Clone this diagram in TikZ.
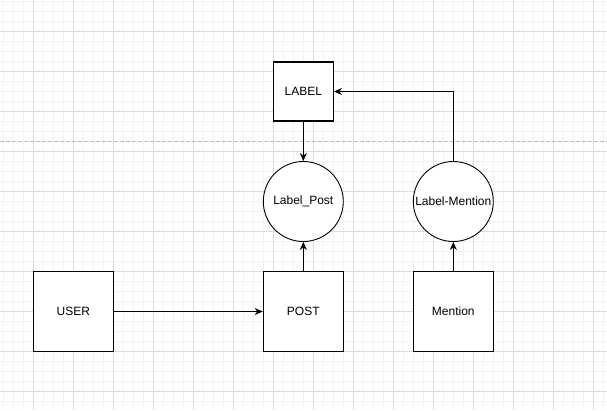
\documentclass[tikz,border=0pt]{standalone}
\usepackage{fontspec}
\setmainfont{Liberation Sans}
\usetikzlibrary{arrows.meta}
\definecolor{minorgrid}{HTML}{F2F2F2}
\definecolor{majorgrid}{HTML}{DCDCDC}
\definecolor{pagebreak}{HTML}{BDBDBD}
\begin{document}
\begin{tikzpicture}[x=1pt,y=-1pt,
  box/.style={draw=black,line width=1.1pt,fill=white,minimum width=80pt,minimum height=80pt,inner sep=0pt,font=\fontsize{12}{14}\selectfont},
  smallbox/.style={box,minimum width=60pt,minimum height=59pt},
  circ/.style={draw=black,line width=0.9pt,fill=white,circle,minimum size=80pt,inner sep=0pt,font=\fontsize{12}{14}\selectfont},
  conn/.style={line width=1pt,-{Stealth[length=8pt,width=7pt,inset=2.5pt]}}]
\useasboundingbox (0,0) rectangle (607,410);
\fill[white] (0,0) rectangle (607,410);
% minor grid
\foreach \x in {3.3,13.3,...,607} \draw[minorgrid,line width=0.8pt] (\x,0) -- (\x,410);
\foreach \y in {1.7,11.7,...,410} \draw[minorgrid,line width=0.8pt] (0,\y) -- (607,\y);
% major grid
\foreach \x in {33.3,73.3,...,607} \draw[majorgrid,line width=0.8pt] (\x,0) -- (\x,410);
\foreach \y in {31.7,71.7,...,410} \draw[majorgrid,line width=0.8pt] (0,\y) -- (607,\y);
% page break line
\draw[pagebreak,line width=0.8pt,dash pattern=on 4pt off 2pt] (0,141.7) -- (607,141.7);
% nodes
\node[smallbox] (label) at (303.3,91.5) {LABEL};
\node[circ] (lpost) at (303.3,201.5) {Label\_Post};
\node[circ] (lment) at (453.3,201.5) {Label-Mention};
\node[box] (user) at (73.3,311.5) {USER};
\node[box] (post) at (303.3,311.5) {POST};
\node[box] (ment) at (453.3,311.5) {Mention};
% connectors
\draw[conn] (user) -- (post);
\draw[conn] (post) -- (lpost);
\draw[conn] (label) -- (lpost);
\draw[conn] (ment) -- (lment);
\draw[conn] (lment.north) |- (label.east);
\end{tikzpicture}
\end{document}
